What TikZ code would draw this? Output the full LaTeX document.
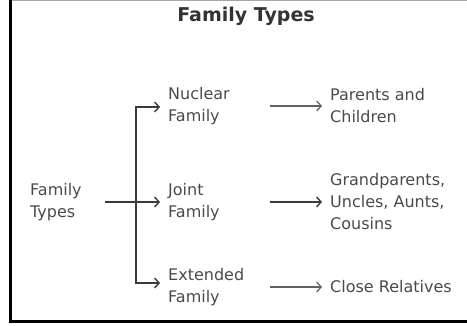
\documentclass[tikz,border=0pt]{standalone}
\usepackage{fontspec}
\setmainfont{DejaVu Sans}
\usetikzlibrary{arrows.meta}
\definecolor{txt}{HTML}{4A4A4A}
\definecolor{ln}{HTML}{3A3A3A}
\begin{document}
\begin{tikzpicture}[x=1pt,y=1pt,
  lbl/.style={anchor=west,inner sep=0pt,align=left,text=txt,font=\fontsize{16}{22}\selectfont},
  conn/.style={draw=ln,line width=1.7pt,line join=miter,-{Straight Barb[length=4.5pt,width=10pt,line width=1.4pt]}},
  conn2/.style={draw=ln!80,line width=1.3pt,-{Straight Barb[length=4.5pt,width=10pt,line width=1.2pt]}}]
\useasboundingbox (0,0) rectangle (467,325);
% frame
\draw[gray!70,line width=0.8pt] (10.5,324.6) -- (467,324.6);
\draw[black,line width=3pt] (10.5,325) -- (10.5,3.5) -- (467,3.5);
% title
\node[text=black!80,font=\fontsize{19}{22}\bfseries\selectfont] (title) at (246,309) {Family Types};
% nodes
\node[lbl] (src) at (30,123) {Family\\Types};
\node[lbl] (nuc) at (168,219) {Nuclear\\Family};
\node[lbl] (joi) at (168,123) {Joint\\Family};
\node[lbl] (ext) at (168,38) {Extended\\Family};
\node[lbl] (par) at (330,219) {Parents and\\Children};
\node[lbl] (gra) at (330,123) {Grandparents,\\Uncles, Aunts,\\Cousins};
\node[lbl] (clo) at (330,38) {Close Relatives};
% branch coordinates
\coordinate (bx) at (136,123);
\coordinate (cx) at (270,0);
% connectors
\draw[conn,shorten <=23pt,shorten >=8pt] (src.east) -- (joi.west);
\draw[conn,shorten >=8pt] (bx) -- (bx |- 0,218) -- (nuc.west |- 0,218);
\draw[conn,shorten >=8pt] (bx) -- (bx |- 0,42) -- (ext.west |- 0,42);
\draw[conn2,shorten >=8pt] (cx |- par.west) -- (par.west);
\draw[conn,shorten >=8pt] (cx |- gra.west) -- (gra.west);
\draw[conn2,shorten >=8pt] (cx |- clo.west) -- (clo.west);
\end{tikzpicture}
\end{document}
